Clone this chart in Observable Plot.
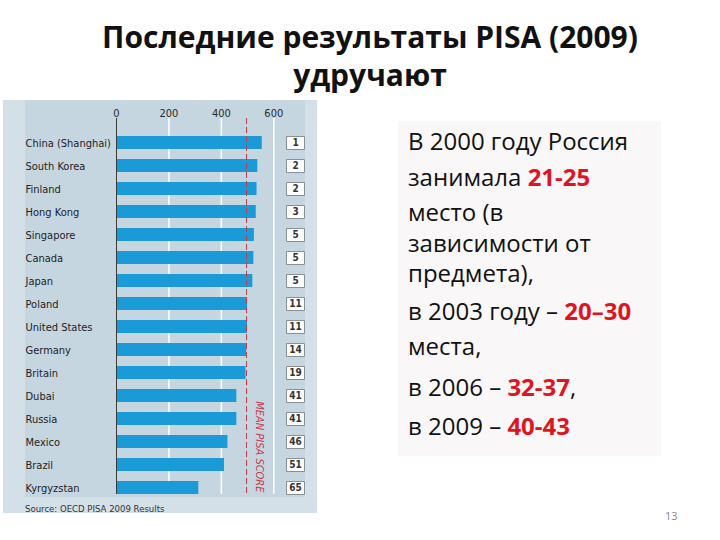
<!DOCTYPE html>
<html>
<head>
<meta charset="utf-8">
<script src="https://cdn.jsdelivr.net/npm/d3@7"></script>
<script src="https://cdn.jsdelivr.net/npm/@observablehq/plot@0.6"></script>
<style>
  html, body { margin: 0; padding: 0; background: #fff; }
  #page { position: relative; width: 720px; height: 540px; overflow: hidden; background: #fff; }
  .title { position: absolute; left: 0; width: 740px; text-align: center; font-family: "Open Sans", sans-serif; font-weight: 700; font-size: 30px; line-height: 30px; color: #111; }
  .tline { position: absolute; left: 408px; font-family: "Open Sans", sans-serif; font-size: 24px; line-height: 24px; color: #111; white-space: nowrap; }
  .red { color: #e0141e; font-weight: 700; }
  #panelOuter { position: absolute; left: 3px; top: 100px; width: 314px; height: 413px; background: #d3e0e8; }
  #panelInner { position: absolute; left: 25px; top: 100px; width: 280px; height: 397px; background: #c6d6e0; }
  #chart { position: absolute; left: 3px; top: 100px; }
  #source { position: absolute; left: 25px; top: 503px; font-family: "DejaVu Sans Condensed", "Liberation Sans Narrow", sans-serif; font-stretch: condensed; font-size: 9.5px; line-height: 12px; color: #333; }
  #textbox { position: absolute; left: 398px; top: 121px; width: 263px; height: 335px; background: #f9f7f7; }
  #pagenum { position: absolute; left: 665px; top: 508px; font-family: "Open Sans", sans-serif; font-size: 11px; color: #888; }
</style>
</head>
<body>
<div id="page">
  <div class="title" style="top:22px">Последние результаты PISA (2009)</div>
  <div class="title" style="top:60px">удручают</div>
  <div id="panelOuter"></div>
  <div id="panelInner"></div>
  <div id="chart"></div>
  <div id="source"></div>
  <div id="textbox"></div>
  <div class="tline" style="top:129px">В 2000 году Россия</div>
  <div class="tline" style="top:165px">занимала <span class="red">21-25</span></div>
  <div class="tline" style="top:200px">место (в</div>
  <div class="tline" style="top:231px">зависимости от</div>
  <div class="tline" style="top:261px">предмета),</div>
  <div class="tline" style="top:299px">в 2003 году – <span class="red">20–30</span></div>
  <div class="tline" style="top:334px">места,</div>
  <div class="tline" style="top:375px">в 2006 – <span class="red">32-37</span>,</div>
  <div class="tline" style="top:414px">в 2009 – <span class="red">40-43</span></div>
  <div id="pagenum">13</div>
</div>
<script>
const countries = ["China (Shanghai)", "South Korea", "Finland", "Hong Kong", "Singapore", "Canada", "Japan", "Poland", "United States", "Germany", "Britain", "Dubai", "Russia", "Mexico", "Brazil", "Kyrgyzstan"];
const scores = [556, 539, 536, 533, 526, 524, 520, 500, 500, 497, 494, 459, 459, 425, 412, 314];
const ranks = [1, 2, 2, 3, 5, 5, 5, 11, 11, 14, 19, 41, 41, 46, 51, 65];
const xTicks = [0, 200, 400, 600];
const meanScore = 496;
const meanLabel = "MEAN PISA SCORE";
const sourceText = "Source: OECD PISA 2009 Results";

const data = countries.map((c, i) => ({country: c, score: scores[i], rank: ranks[i]}));
const chartFont = '"DejaVu Sans Condensed", "Liberation Sans Narrow", sans-serif';

const rectSymbol = { draw(ctx) { ctx.rect(-9, -6.5, 18, 13); } };

const chart = Plot.plot({
  width: 314,
  height: 413,
  marginLeft: 113,
  marginRight: 43.7,
  marginTop: 18,
  marginBottom: 19,
  style: { background: "transparent", fontFamily: chartFont, fontStretch: "condensed", overflow: "visible" },
  x: { domain: [0, 600], label: null },
  y: { domain: countries, paddingInner: 0.43, paddingOuter: 0.26, align: 1, axis: null },
  marks: [
    Plot.ruleX(xTicks.slice(1), { stroke: "#ffffff", strokeWidth: 1.5, strokeOpacity: 1 }),
    Plot.barX(data, { y: "country", x: "score", fill: "#1a9bd7" }),
    Plot.ruleX([0], { stroke: "#3a3a3a", strokeWidth: 1 }),
    Plot.ruleX([meanScore], { stroke: "#c23a4a", strokeWidth: 1, strokeDasharray: "6,3" }),
    Plot.text([meanLabel], { x: () => meanScore, text: d => d, frameAnchor: "bottom", rotate: 90, textAnchor: "end", dx: 9, dy: -2, fontSize: 11, fontStyle: "italic", fill: "#c8394a" }),
    Plot.axisX(xTicks, { anchor: "top", label: null, tickSize: 0, tickPadding: 2, fontSize: 11, color: "#2a2a2a" }),
    Plot.text(data, { y: "country", text: "country", frameAnchor: "left", textAnchor: "start", dx: -91, fontSize: 11, fill: "#222" }),
    Plot.dot(data, { y: "country", frameAnchor: "right", dx: 21.7, symbol: rectSymbol, fill: "#ffffff", stroke: "#8a8f94", strokeWidth: 1 }),
    Plot.text(data, { y: "country", text: "rank", frameAnchor: "right", textAnchor: "middle", dx: 21.7, fontSize: 10, fontWeight: "bold", fill: "#333" })
  ]
});
document.getElementById("chart").appendChild(chart);
document.getElementById("source").textContent = sourceText;
</script>
</body>
</html>
